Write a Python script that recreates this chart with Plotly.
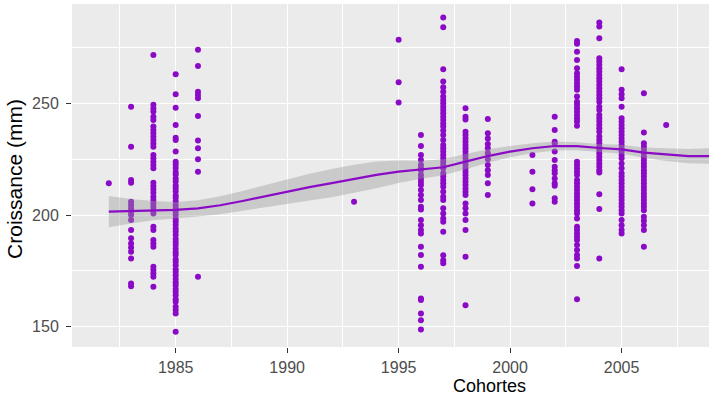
import plotly.graph_objects as go

# ---- data: growth (mm) per cohort ----
y_1982 = [214.2]
y_1983 = [248.5, 230.6, 215.7, 214.5, 206.0, 204.5, 203.0, 201.5, 200.0, 197.8, 193.3,
          189.6, 187.3, 185.5, 183.6, 180.6, 169.4, 168.2]
y_1984 = [271.6, 249.3, 247.8, 246.3, 244.0, 242.5, 239.6, 238.0, 236.6, 235.0, 233.6,
          232.0, 230.6, 226.9, 225.4, 223.9, 222.4, 220.9, 214.5, 213.0, 211.5, 210.0,
          208.2, 206.7, 205.2, 203.7, 202.2, 200.7, 194.8, 193.3, 188.8, 187.3, 185.8,
          176.9, 175.4, 173.9, 172.4, 167.9]
y_1985 = [263.0, 254.0, 248.0, 240.3, 234.6, 233.6, 228.4, 223.9, 222.6, 221.0, 219.3,
          218.1, 216.4, 215.0, 213.2, 212.0, 210.5, 208.8, 207.6, 206.1, 204.4, 203.1,
          201.6, 200.2, 198.4, 197.1, 195.7, 194.0, 192.6, 191.1, 189.3, 188.0, 186.6,
          184.9, 183.4, 182.1, 180.3, 179.0, 177.6, 175.8, 174.5, 173.1, 171.4, 170.0,
          168.6, 166.9, 165.6, 164.1, 162.4, 161.2, 159.0, 157.5, 156.0, 147.8]
y_1986 = [273.9, 266.7, 255.2, 253.7, 252.2, 244.3, 233.3, 229.9, 225.0, 219.4, 172.4]
y_1993 = [206.0]
y_1995 = [278.4, 259.4, 250.4]
y_1996 = [235.8, 230.9, 226.9, 224.6, 222.4, 220.9, 220.1, 217.9, 216.4, 214.9, 213.4,
          211.2, 209.0, 206.7, 203.7, 202.5, 197.8, 195.5, 193.3, 191.8, 185.8, 182.1,
          176.9, 162.7, 162.0, 156.0, 153.0, 148.8]
y_1997 = [288.4, 284.0, 265.2, 259.7, 257.2, 255.2, 253.0, 251.5, 250.0, 248.5, 247.0,
          245.5, 244.0, 242.5, 241.0, 239.6, 237.8, 235.8, 233.6, 231.3, 229.9, 228.4,
          226.9, 225.4, 223.9, 222.4, 220.9, 218.7, 217.2, 215.7, 214.2, 212.7, 210.4,
          208.2, 206.7, 203.0, 200.7, 198.5, 197.0, 192.5, 182.0, 179.8, 178.4]
y_1998 = [247.8, 244.0, 242.8, 237.3, 235.8, 234.3, 232.8, 231.3, 229.9, 228.4, 226.9,
          225.4, 223.9, 222.4, 220.9, 219.4, 217.9, 216.4, 214.9, 213.4, 211.9, 210.4,
          209.0, 205.2, 203.0, 200.7, 197.8, 193.3, 181.4, 159.7]
y_1999 = [243.0, 236.6, 234.3, 231.8, 229.9, 227.6, 225.0, 222.4, 220.1, 217.9, 214.2, 209.0]
y_2001 = [226.9, 219.4, 211.6, 205.2]
y_2002 = [244.0, 238.0, 232.8, 232.0, 228.4, 224.6, 221.6, 220.1, 218.7, 216.4, 214.2,
          213.1, 207.5, 206.0]
y_2003 = [277.9, 276.6, 273.1, 269.4, 265.7, 263.4, 261.9, 260.4, 258.9, 257.5, 256.0,
          253.0, 250.7, 249.3, 247.8, 246.3, 244.8, 243.3, 241.8, 239.9, 223.9, 222.4,
          220.9, 219.4, 217.9, 215.7, 214.2, 212.7, 211.2, 209.7, 208.2, 206.7, 205.2,
          203.7, 202.2, 200.7, 198.5, 194.8, 193.3, 191.8, 190.3, 188.8, 186.6, 184.4,
          182.1, 180.6, 177.2, 162.3]
y_2004 = [286.1, 284.3, 279.1, 270.1, 268.7, 267.2, 265.7, 264.2, 262.7, 261.2, 259.7,
          258.2, 256.7, 255.2, 253.7, 252.2, 250.7, 248.5, 247.0, 244.8, 243.3, 241.8,
          240.3, 238.8, 237.3, 235.1, 233.6, 232.1, 230.6, 229.1, 227.6, 226.1, 224.6,
          223.1, 221.6, 220.1, 219.0, 209.3, 202.7, 180.6]
y_2005 = [265.2, 256.0, 254.0, 252.2, 248.5, 243.3, 241.8, 240.3, 238.8, 237.3, 235.8,
          234.3, 232.8, 231.3, 229.9, 228.4, 226.9, 225.4, 223.1, 220.9, 218.7, 217.2,
          215.7, 214.2, 212.7, 211.2, 209.7, 208.2, 206.7, 205.2, 203.7, 202.2, 200.7,
          197.8, 195.5, 193.3, 191.8]
y_2006 = [254.5, 236.9, 232.1, 230.6, 229.1, 227.6, 226.1, 224.6, 223.1, 221.6, 220.1,
          218.7, 217.2, 215.7, 214.2, 212.7, 211.2, 209.7, 208.2, 206.7, 205.2, 203.7,
          202.2, 199.3, 197.5, 195.5, 193.3, 185.8]
y_2007 = [240.3]

cohorts = [1982, 1983, 1984, 1985, 1986, 1993, 1995, 1996, 1997, 1998, 1999,
           2001, 2002, 2003, 2004, 2005, 2006, 2007]
values = [y_1982, y_1983, y_1984, y_1985, y_1986, y_1993, y_1995, y_1996, y_1997,
          y_1998, y_1999, y_2001, y_2002, y_2003, y_2004, y_2005, y_2006, y_2007]

# smoothed trend (loess) and its confidence half-width
smooth_x = [1982, 1983, 1984, 1985, 1986, 1987, 1988, 1989, 1990, 1991, 1992, 1993, 1994,
            1995, 1996, 1997, 1998, 1999, 2000, 2001, 2002, 2003, 2004, 2005, 2006, 2007,
            2008, 2009]
smooth_y = [201.5, 201.7, 202.0, 202.3, 203.0, 204.4, 206.3, 208.4, 210.5, 212.5, 214.3,
            216.2, 218.0, 219.4, 220.3, 221.4, 223.9, 226.4, 228.4, 229.9, 230.9, 230.8,
            230.0, 229.4, 227.9, 227.0, 226.4, 226.4]
smooth_se = [7.0, 5.5, 4.3, 3.6, 3.6, 4.0, 4.5, 5.0, 5.6, 6.0, 6.3, 6.3, 6.0,
             5.0, 4.0, 3.6, 3.4, 3.0, 2.5, 2.2, 2.0, 1.8, 1.8, 2.0, 2.3, 2.8, 3.2, 3.5]

x_ticks = [1985, 1990, 1995, 2000, 2005]
y_ticks = [150, 200, 250]

PURPLE = "#8A0AC6"
FONT = "Liberation Sans, Arial, sans-serif"

px, py = [], []
for c, vals in zip(cohorts, values):
    px += [c] * len(vals)
    py += vals

upper = [m + s for m, s in zip(smooth_y, smooth_se)]
lower = [m - s for m, s in zip(smooth_y, smooth_se)]

fig = go.Figure()
fig.add_trace(go.Scatter(x=px, y=py, mode="markers",
                         marker=dict(color=PURPLE, size=6, line=dict(width=0))))
fig.add_trace(go.Scatter(x=smooth_x + smooth_x[::-1], y=upper + lower[::-1],
                         fill="toself", fillcolor="rgba(153,153,153,0.4)",
                         line=dict(width=0), mode="lines", hoverinfo="skip"))
fig.add_trace(go.Scatter(x=smooth_x, y=smooth_y, mode="lines",
                         line=dict(color=PURPLE, width=2.2)))

axis_common = dict(showline=False, zeroline=False, gridcolor="white", gridwidth=1.3,
                   ticks="outside", ticklen=5, tickcolor="#333333", tickwidth=1,
                   automargin=False,
                   tickfont=dict(family=FONT, size=16, color="#4D4D4D"))

fig.update_layout(
    width=718, height=397,
    margin=dict(l=72, r=9, t=4, b=50, autoexpand=False),
    plot_bgcolor="#EBEBEB", paper_bgcolor="white",
    showlegend=False,
    xaxis=dict(range=[1980.35, 2008.92], tickmode="array", tickvals=x_ticks,
               minor=dict(tickvals=[1982.5, 1987.5, 1992.5, 1997.5, 2002.5, 2007.5],
                          showgrid=True, gridcolor="white", gridwidth=0.7, ticks=""),
               ticklabelstandoff=1, **axis_common),
    yaxis=dict(range=[141.0, 294.4], tickmode="array", tickvals=y_ticks,
               minor=dict(tickvals=[175, 225, 275], showgrid=True, gridcolor="white",
                          gridwidth=0.7, ticks=""),
               ticklabelstandoff=4, **axis_common),
    annotations=[
        dict(text="Cohortes", xref="paper", yref="paper", x=0.656, y=-0.115,
             xanchor="center", yanchor="middle", showarrow=False,
             font=dict(family=FONT, size=18, color="black")),
        dict(text="Croissance (mm)", xref="paper", yref="paper", x=-0.0895, y=0.49,
             xanchor="center", yanchor="middle", textangle=-90, showarrow=False,
             font=dict(family=FONT, size=21, color="black")),
    ],
)

fig.write_html("out.html", config={"displayModeBar": False},
               post_script="document.body.style.margin='0px';document.body.style.overflow='hidden';")
